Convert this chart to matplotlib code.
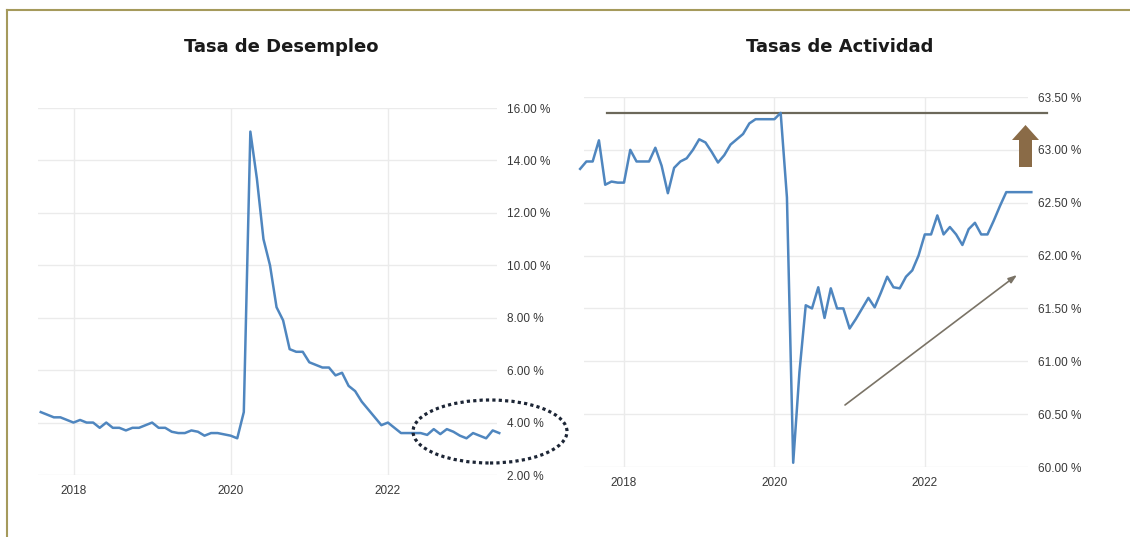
import numpy as np
import matplotlib
matplotlib.use("Agg")
import matplotlib.pyplot as plt
from matplotlib.patches import Ellipse, FancyArrow
from matplotlib.lines import Line2D

W, H = 1130, 537

# Tasa de desempleo, mensual, ago-2017 .. jun-2023
desempleo_inicio = 2017 + 7 / 12
desempleo = [
    4.4, 4.3, 4.2, 4.2, 4.1,
    4.0, 4.1, 4.0, 4.0, 3.8, 4.0, 3.8, 3.8, 3.7, 3.8, 3.8, 3.9,
    4.0, 3.8, 3.8, 3.65, 3.6, 3.6, 3.7, 3.65, 3.5, 3.6, 3.6, 3.55,
    3.5, 3.4, 4.4, 15.1, 13.3, 11.0, 10.0, 8.4, 7.9, 6.8, 6.7, 6.7,
    6.3, 6.2, 6.1, 6.1, 5.8, 5.9, 5.4, 5.2, 4.8, 4.5, 4.2, 3.9,
    4.0, 3.8, 3.6, 3.6, 3.6, 3.6, 3.53, 3.75, 3.56, 3.75, 3.65, 3.5,
    3.4, 3.6, 3.5, 3.4, 3.7, 3.6,
]

# Tasa de actividad, mensual, jun-2017 .. jun-2023
actividad_inicio = 2017 + 5 / 12
actividad = [
    62.82, 62.89, 62.89, 63.09, 62.67, 62.70, 62.69,
    62.69, 63.00, 62.89, 62.89, 62.89, 63.02, 62.85, 62.59, 62.83, 62.89, 62.92, 63.00,
    63.10, 63.07, 62.98, 62.88, 62.95, 63.05, 63.10, 63.15, 63.25, 63.29, 63.29, 63.29,
    63.29, 63.35, 62.55, 60.04, 60.90, 61.53, 61.50, 61.70, 61.41, 61.69, 61.50, 61.50,
    61.31, 61.40, 61.50, 61.60, 61.51, 61.65, 61.80, 61.70, 61.69, 61.80, 61.86, 62.00,
    62.20, 62.20, 62.38, 62.20, 62.27, 62.20, 62.10, 62.25, 62.31, 62.20, 62.20, 62.33,
    62.47, 62.60, 62.60, 62.60, 62.60, 62.60,
]

anios = [2018, 2020, 2022]
ticks_desempleo = [2, 4, 6, 8, 10, 12, 14, 16]
ticks_actividad = [60.0, 60.5, 61.0, 61.5, 62.0, 62.5, 63.0, 63.5]

LINEA = "#4f86bf"
GRID = "#ebebeb"
TEXTO = "#383838"

plt.rcParams["font.family"] = ["Liberation Sans", "DejaVu Sans"]


def px(x, y):
    # pixel (desde arriba a la izquierda) -> fraccion de figura
    return x / W, 1 - y / H


def estilo(ax, yticks):
    for s in ax.spines.values():
        s.set_visible(False)
    ax.yaxis.tick_right()
    ax.set_yticks(yticks)
    ax.set_yticklabels([f"{v:.2f} %" for v in yticks])
    ax.set_xticks(anios)
    ax.set_xticklabels([str(a) for a in anios])
    ax.tick_params(length=0, labelsize=8.5, labelcolor=TEXTO)
    ax.tick_params(axis="y", pad=7.5)
    ax.tick_params(axis="x", pad=7)
    ax.grid(True, color=GRID, lw=1.0)
    ax.set_axisbelow(True)


fig = plt.figure(figsize=(W / 100, H / 100), dpi=100)

# --- Tasa de Desempleo ---
l, b = px(38, 475)
r, t = px(497, 108)
ax1 = fig.add_axes([l, b, r - l, t - b])
x1 = desempleo_inicio + np.arange(len(desempleo)) / 12
ax1.plot(x1, desempleo, color=LINEA, lw=1.8, clip_on=False, solid_joinstyle="round")
ax1.set_xlim(2018 - 35.5 / 78.6, 2018 + 423.5 / 78.6)
ax1.set_ylim(2, 16)
estilo(ax1, ticks_desempleo)

# --- Tasas de Actividad ---
l, b = px(584, 467)
r, t = px(1028, 97)
ax2 = fig.add_axes([l, b, r - l, t - b])
x2 = actividad_inicio + np.arange(len(actividad)) / 12
ax2.plot(x2, actividad, color=LINEA, lw=1.8, clip_on=False, solid_joinstyle="round")
ax2.set_xlim(2018 - 40 / 75.2, 2018 + 404 / 75.2)
ax2.set_ylim(60, 63.5)
estilo(ax2, ticks_actividad)

# nivel maximo previo a la pandemia
nivel = max(actividad)
ax2.plot([2018 - 17 / 75.2, 2018 + 423 / 75.2], [nivel, nivel],
         color="#6c685a", lw=1.6, clip_on=False, zorder=1)

# titulos
for xc, titulo in [(281, "Tasa de Desempleo"), (840, "Tasas de Actividad")]:
    fig.text(*px(xc, 47), titulo, ha="center", va="center",
             fontsize=13, fontweight="bold", color="#1a1a1a",
             family=["DejaVu Sans"])

# elipse punteada sobre el ultimo tramo del desempleo
cx, cy = px(490, 431.5)
fig.add_artist(Ellipse((cx, cy), 154 / W, 63 / H, transform=fig.transFigure,
                       fill=False, ec="#1c2535", lw=2.3, ls=(0, (1, 1.0))))

# flecha marron hacia arriba
x0, y0 = px(1025.5, 167)
fig.add_artist(FancyArrow(x0, y0, 0, 42 / H, width=13 / W, head_width=27 / W,
                          head_length=15 / H, length_includes_head=True,
                          transform=fig.transFigure, color="#8a6b47", lw=0))

# flecha fina de tendencia
fig.add_artist(matplotlib.text.Annotation(
    "", xy=px(1017, 275), xytext=px(845, 405),
    xycoords=fig.transFigure, textcoords=fig.transFigure,
    arrowprops=dict(arrowstyle="-|>,head_length=0.5,head_width=0.18",
                    color="#7a7366", lw=1.2, shrinkA=0, shrinkB=0)))

# marco
fig.add_artist(Line2D([7 / W, 1], [1 - 10 / H] * 2, transform=fig.transFigure,
                      color="#a59a5c", lw=1.5))
fig.add_artist(Line2D([7 / W, 7 / W], [0, 1 - 10 / H], transform=fig.transFigure,
                      color="#a59a5c", lw=1.5))

fig.savefig("out.png", dpi=100)
